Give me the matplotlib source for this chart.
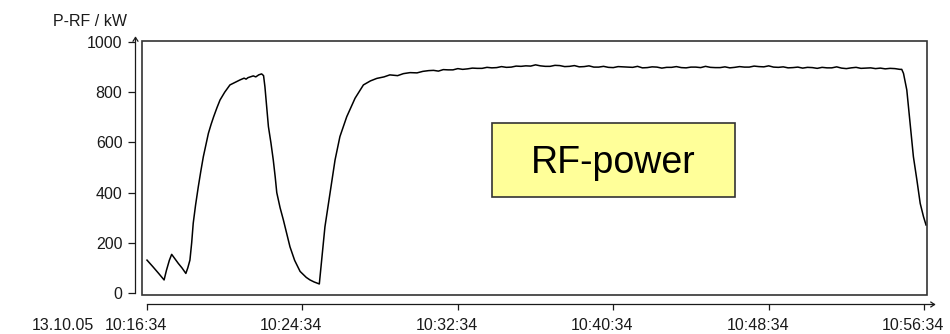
import numpy as np
import matplotlib
matplotlib.use('Agg')
import matplotlib.pyplot as plt
from matplotlib.patches import Rectangle
from matplotlib.path import Path
from matplotlib.transforms import ScaledTranslation

plt.rcParams['font.family'] = ['Liberation Sans', 'DejaVu Sans']

# time in minutes after 10:16:34, RF power in kW
start_t = [0.0, 0.3, 0.6, 0.88, 1.0, 1.15, 1.27, 1.45, 1.61, 1.8, 2.0, 2.1, 2.21,
           2.3, 2.38, 2.5, 2.64, 2.77, 2.9, 3.03, 3.16, 3.3, 3.43, 3.6, 3.76, 4.0,
           4.27, 4.5, 4.65, 4.79, 5.0, 5.1, 5.2, 5.35, 5.47, 5.6, 5.75, 5.9, 6.0]
start_v = [131, 105, 78, 52, 90, 130, 154, 135, 118, 100, 78, 100, 131,
           200, 278, 350, 423, 485, 543, 590, 636, 672, 702, 738, 769, 800,
           829, 838, 844, 849, 856, 852, 858, 862, 865, 861, 869, 873, 866]

dip_t = [6.07, 6.15, 6.25, 6.38, 6.5, 6.6, 6.68, 6.85, 7.02, 7.2, 7.36, 7.6, 7.88,
         8.2, 8.39, 8.6, 8.87]
dip_v = [822, 750, 663, 598, 530, 462, 400, 340, 291, 235, 184, 130, 86,
         62, 52, 44, 36]

rise_t = [8.99, 9.16, 9.42, 9.68, 9.93, 10.28, 10.71, 11.14, 11.5, 11.83, 12.2,
          12.5, 12.9, 13.2, 13.54, 13.9, 14.2, 14.39]
rise_v = [131, 264, 397, 530, 623, 702, 776, 829, 845, 855, 861, 869, 866, 874,
          878, 877, 883, 885]

plateau_start, plateau_step = 14.5, 0.25
plateau_v = [886, 887, 884, 890, 889, 889, 894, 891, 893,
             896, 895, 895, 899, 897, 898, 902, 899, 900, 904,
             903, 905, 904, 909, 905, 903, 903, 907, 906, 902, 903, 906,
             901, 902, 905, 900, 900, 903, 899, 898, 902, 901, 900, 899,
             903, 897, 898, 901, 900, 896, 899, 899, 902, 898, 897, 900,
             900, 898, 903, 899, 898, 898, 901, 897, 899, 902, 900, 900,
             904, 902, 901, 905, 900, 899, 901, 897, 898, 900, 896, 899,
             898, 895, 899, 897, 897, 901, 896, 894, 897, 899, 895, 896,
             897, 894, 896, 893, 895, 894, 891]

end_t = [38.85, 38.94, 39.11, 39.28, 39.45, 39.63, 39.8, 39.97, 40.1]
end_v = [891, 875, 809, 676, 543, 450, 357, 304, 271]

xtick_min = [0, 8, 16, 24, 32, 40]
xtick_labels = ['10:16:34', '10:24:34', '10:32:34', '10:40:34', '10:48:34', '10:56:34']
ytick_vals = [0, 200, 400, 600, 800, 1000]
date_label = '13.10.05'
y_title = 'P-RF / kW'
box_label = 'RF-power'

plateau_t = plateau_start + plateau_step * np.arange(len(plateau_v))
t = np.concatenate([start_t, dip_t, rise_t, plateau_t, end_t])
v = np.concatenate([start_v, dip_v, rise_v, plateau_v, end_v])

ink = '#1a1a1a'
fig = plt.figure(figsize=(9.5, 3.34), dpi=100)
ax = fig.add_axes([142 / 950, 39 / 334, 785 / 950, 254 / 334])
ax.plot(t, v, color='black', lw=1.1)
ax.set_xlim(-0.257, 40.15)
ax.set_ylim(-8, 1004)

# frame around the plot area
ax.add_patch(Rectangle((0, 0), 1, 1, transform=ax.transAxes, fill=False,
                       edgecolor='#333333', lw=1.2, clip_on=False, zorder=3))
ax.spines['top'].set_visible(False)
ax.spines['right'].set_visible(False)

# detached axis lines with arrows
left_off, bottom_off = 7, 8.5  # px
ax.spines['left'].set_position(('outward', left_off * 0.72))
ax.spines['bottom'].set_position(('outward', bottom_off * 0.72))
ax.spines['left'].set_bounds(0, 1020)
ax.spines['bottom'].set_bounds(0, 40.5)
for s in ['left', 'bottom']:
    ax.spines[s].set_color(ink)
    ax.spines[s].set_linewidth(0.9)

up_head = Path([(-1, -1.5), (0, 0), (1, -1.5)], [Path.MOVETO, Path.LINETO, Path.LINETO])
right_head = Path([(-1.5, 1), (0, 0), (-1.5, -1)], [Path.MOVETO, Path.LINETO, Path.LINETO])
ax.plot([-0.257], [1020], marker=up_head, ms=6, mfc='none', mec=ink, mew=0.9,
        clip_on=False, transform=ax.transData + ScaledTranslation(-left_off / 100, 0, fig.dpi_scale_trans))
ax.plot([40.5], [-8], marker=right_head, ms=6, mfc='none', mec=ink, mew=0.9,
        clip_on=False, transform=ax.transData + ScaledTranslation(0, -bottom_off / 100, fig.dpi_scale_trans))

ax.set_yticks(ytick_vals)
ax.set_yticklabels([str(y) for y in ytick_vals])
ax.tick_params(axis='y', direction='out', length=5, width=0.9, pad=4,
               labelsize=11.5, colors=ink)
ax.set_xticks(xtick_min)
ax.set_xticklabels([])
ax.tick_params(axis='x', direction='out', length=4, width=0.9, colors=ink)

# x labels sit a little left of their ticks in the original
for xm, lab in zip(xtick_min, xtick_labels):
    ax.annotate(lab, xy=(xm, 0), xycoords=('data', 'axes fraction'),
                xytext=(-11, -35), textcoords='offset pixels',
                ha='center', va='baseline', fontsize=11.5, color=ink)
ax.annotate(date_label, xy=(xtick_min[0], 0), xycoords=('data', 'axes fraction'),
            xytext=(-53, -35), textcoords='offset pixels',
            ha='right', va='baseline', fontsize=11.5, color=ink)

fig.text(53 / 950, 1 - 26.5 / 334, y_title, ha='left', va='baseline',
         fontsize=11.5, color=ink)

# yellow label box
ax.add_patch(Rectangle((350 / 785, 98 / 254), 243 / 785, 74 / 254, transform=ax.transAxes,
                       facecolor='#ffff99', edgecolor='#333333', lw=1.2, zorder=4))
ax.text(471.5 / 785, 122 / 254, box_label, transform=ax.transAxes, ha='center',
        va='baseline', fontsize=27, color='black', zorder=5)

fig.savefig('out.png', dpi=100)
